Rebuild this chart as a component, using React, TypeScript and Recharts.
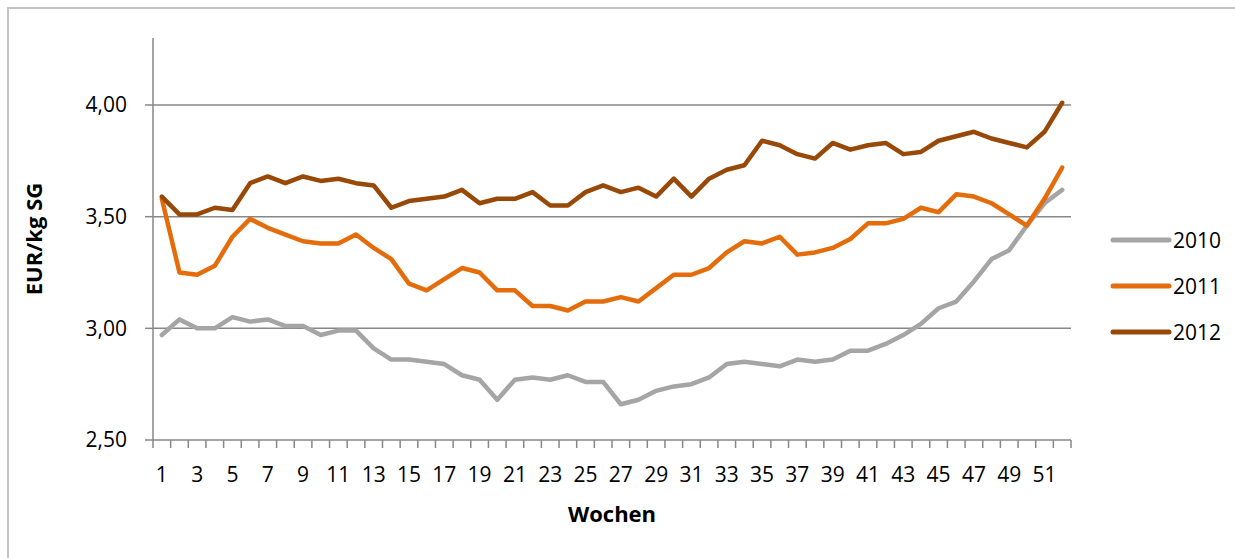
import { LineChart, Line, XAxis, YAxis, CartesianGrid, Legend } from 'recharts';

const WEEKS = [
  1, 2, 3, 4, 5, 6, 7, 8, 9, 10, 11, 12, 13, 14, 15, 16, 17, 18, 19, 20, 21, 22, 23, 24, 25, 26,
  27, 28, 29, 30, 31, 32, 33, 34, 35, 36, 37, 38, 39, 40, 41, 42, 43, 44, 45, 46, 47, 48, 49, 50, 51, 52,
];

const PRICES_2010 = [
  2.97, 3.04, 3.0, 3.0, 3.05, 3.03, 3.04, 3.01, 3.01, 2.97, 2.99, 2.99, 2.91, 2.86, 2.86, 2.85, 2.84,
  2.79, 2.77, 2.68, 2.77, 2.78, 2.77, 2.79, 2.76, 2.76, 2.66, 2.68, 2.72, 2.74, 2.75, 2.78, 2.84, 2.85,
  2.84, 2.83, 2.86, 2.85, 2.86, 2.9, 2.9, 2.93, 2.97, 3.02, 3.09, 3.12, 3.21, 3.31, 3.35, 3.46, 3.56, 3.62,
];

const PRICES_2011 = [
  3.58, 3.25, 3.24, 3.28, 3.41, 3.49, 3.45, 3.42, 3.39, 3.38, 3.38, 3.42, 3.36, 3.31, 3.2, 3.17, 3.22,
  3.27, 3.25, 3.17, 3.17, 3.1, 3.1, 3.08, 3.12, 3.12, 3.14, 3.12, 3.18, 3.24, 3.24, 3.27, 3.34, 3.39,
  3.38, 3.41, 3.33, 3.34, 3.36, 3.4, 3.47, 3.47, 3.49, 3.54, 3.52, 3.6, 3.59, 3.56, 3.51, 3.46, 3.58, 3.72,
];

const PRICES_2012 = [
  3.59, 3.51, 3.51, 3.54, 3.53, 3.65, 3.68, 3.65, 3.68, 3.66, 3.67, 3.65, 3.64, 3.54, 3.57, 3.58, 3.59,
  3.62, 3.56, 3.58, 3.58, 3.61, 3.55, 3.55, 3.61, 3.64, 3.61, 3.63, 3.59, 3.67, 3.59, 3.67, 3.71, 3.73,
  3.84, 3.82, 3.78, 3.76, 3.83, 3.8, 3.82, 3.83, 3.78, 3.79, 3.84, 3.86, 3.88, 3.85, 3.83, 3.81, 3.88, 4.01,
];

const WEEK_LABELS = [1, 3, 5, 7, 9, 11, 13, 15, 17, 19, 21, 23, 25, 27, 29, 31, 33, 35, 37, 39, 41, 43, 45, 47, 49, 51];
const Y_TICKS = [2.5, 3, 3.5, 4];
const GRID_VALUES = [3, 3.5, 4];

const SERIES = [
  { key: 'p2010', name: '2010', color: '#a5a5a5' },
  { key: 'p2011', name: '2011', color: '#e46c0a' },
  { key: 'p2012', name: '2012', color: '#984807' },
];

const AXIS = '#878787';
const FONT = '"Open Sans", sans-serif';

const data = WEEKS.map((week, i) => ({
  week,
  p2010: PRICES_2010[i],
  p2011: PRICES_2011[i],
  p2012: PRICES_2012[i],
}));

// tick marks sit between the weeks, labels on every other week
const boundaries = [...WEEKS.map((w) => w - 0.5), WEEKS.length + 0.5];
const xTicks = [...boundaries, ...WEEK_LABELS].sort((a, b) => a - b);

const fmtEur = (v: number) => v.toFixed(2).replace('.', ',');

function WeekTick({ x, y, payload }: any) {
  const v = payload.value;
  if (v % 1 !== 0) {
    return <line x1={x} x2={x} y1={y} y2={y + 8} stroke={AXIS} strokeWidth={1.5} />;
  }
  return (
    <text x={x} y={y + 42} textAnchor="middle" fontSize={21} fontFamily={FONT} fill="#000">
      {v}
    </text>
  );
}

const renderLegend = () => (
  <div style={{ fontFamily: FONT }}>
    {SERIES.map((s) => (
      <div key={s.key} style={{ display: 'flex', alignItems: 'center', height: 46 }}>
        <svg width={62} height={10}>
          <line x1={3} x2={59} y1={5} y2={5} stroke={s.color} strokeWidth={5} strokeLinecap="round" />
        </svg>
        <span style={{ fontSize: 21, color: '#000', marginLeft: 1, lineHeight: '46px' }}>{s.name}</span>
      </div>
    ))}
  </div>
);

export default function App() {
  return (
    <div style={{ position: 'absolute', left: 0, top: 0, width: 1235, height: 558, background: '#fff', overflow: 'hidden', fontFamily: FONT }}>
      <div style={{ position: 'absolute', left: 7, top: 7, width: 1260, height: 600, border: '2px solid #c4c4c4' }} />
      <LineChart width={1235} height={558} data={data} margin={{ top: 38, right: 164, bottom: 0, left: 20 }}>
        <CartesianGrid
          horizontal
          vertical={false}
          horizontalValues={GRID_VALUES}
          stroke={AXIS}
          strokeWidth={1.5}
        />
        <XAxis
          dataKey="week"
          type="number"
          domain={[0.5, 52.5]}
          ticks={xTicks}
          interval={0}
          tick={<WeekTick />}
          tickLine={false}
          tickSize={0}
          tickMargin={0}
          height={118}
          axisLine={{ stroke: AXIS, strokeWidth: 1.5 }}
          label={{
            content: ({ viewBox }: any) => (
              <text
                x={viewBox.x + viewBox.width / 2}
                y={522}
                textAnchor="middle"
                fontSize={22}
                fontWeight="bold"
                fontFamily={FONT}
                fill="#000"
              >
                Wochen
              </text>
            ),
          }}
        />
        <YAxis
          type="number"
          domain={[2.5, 4.3]}
          ticks={Y_TICKS}
          interval={0}
          width={133}
          tickFormatter={fmtEur}
          tick={{ fontSize: 21, fill: '#000', fontFamily: FONT }}
          tickSize={8}
          tickMargin={18}
          tickLine={{ stroke: AXIS, strokeWidth: 1.5 }}
          axisLine={{ stroke: AXIS, strokeWidth: 1.5 }}
          label={{
            content: ({ viewBox }: any) => {
              const cx = viewBox.x + 13;
              const cy = viewBox.y + viewBox.height / 2;
              return (
                <text
                  x={cx}
                  y={cy}
                  transform={`rotate(-90 ${cx} ${cy})`}
                  textAnchor="middle"
                  dominantBaseline="central"
                  fontSize={22}
                  fontWeight="bold"
                  fontFamily={FONT}
                  fill="#000"
                >
                  EUR/kg SG
                </text>
              );
            },
          }}
        />
        <Legend
          layout="vertical"
          align="center"
          verticalAlign="middle"
          content={renderLegend}
          wrapperStyle={{ left: 1110, top: 217, width: 125, height: 138 }}
        />
        {SERIES.map((s) => (
          <Line
            key={s.key}
            dataKey={s.key}
            name={s.name}
            stroke={s.color}
            strokeWidth={4.5}
            strokeLinejoin="round"
            strokeLinecap="round"
            dot={false}
            activeDot={false}
            isAnimationActive={false}
          />
        ))}
      </LineChart>
    </div>
  );
}
